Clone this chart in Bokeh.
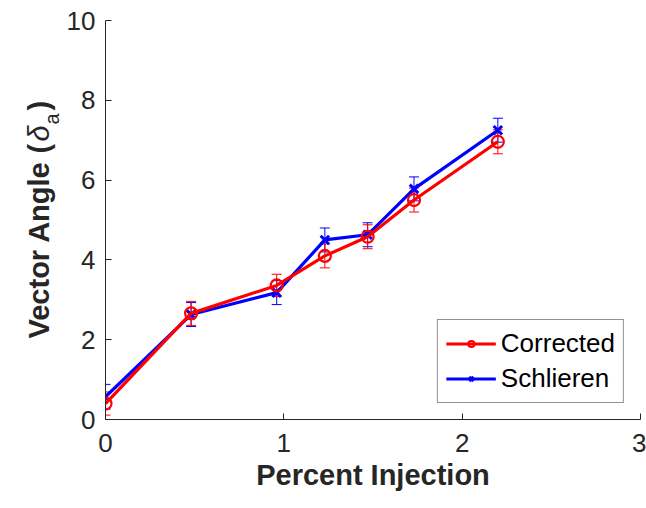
import math
from bokeh.plotting import figure
from bokeh.layouts import row
from bokeh.models import (ColumnDataSource, Whisker, TeeHead, Legend,
                          LegendItem, FixedTicker, Range1d)
from bokeh.core.properties import value
from bokeh.embed import file_html
from bokeh.resources import INLINE

# ---- data ----
percent_injection = [0.0, 0.48, 0.96, 1.23, 1.47, 1.73, 2.20]
corrected = [0.40, 2.66, 3.36, 4.10, 4.58, 5.50, 6.96]
corrected_err = [0.29, 0.30, 0.28, 0.30, 0.30, 0.30, 0.30]
schlieren = [0.57, 2.63, 3.18, 4.50, 4.63, 5.78, 7.25]
schlieren_err = [0.31, 0.30, 0.30, 0.30, 0.30, 0.30, 0.30]
x_ticks = [0, 1, 2, 3]
y_ticks = [0, 2, 4, 6, 8, 10]
y_label_parts = ["Vector Angle", "(", "\u03b4", "a", ")"]

FONT = "Liberation Sans"
AX = "#262626"
RED = "#ff0000"
BLUE = "#0000ff"

W, H = 646, 508
LW = 63                      # width of the strip holding the y-axis title
BL, BR, BT, BB = 104 - LW, 6, 20, 89

# ---- strip with the composite y-axis title ----
# its frame is aligned with the main plot's frame, so use page pixels
lab = figure(width=LW, height=H, output_backend="svg", toolbar_location=None,
             x_range=Range1d(0, LW), y_range=Range1d(BB, H - BT),
             x_axis_type=None, y_axis_type=None,
             min_border_left=0, min_border_right=0, min_border_top=BT,
             min_border_bottom=BB)
lab.xgrid.visible = False
lab.ygrid.visible = False
lab.outline_line_color = None
lab.border_fill_color = "white"
lab.background_fill_color = "white"

# (baseline x, start y from top of page, size, style)
label_layout = [
    (38, 338, "29px", "bold"),
    (38, 153, "29px", "bold"),
    (38, 141, "29px", "italic"),
    (51, 124, "20px", "normal"),
    (38, 110, "29px", "bold"),
]
for txt, (bx, sy, fs, st) in zip(y_label_parts, label_layout):
    lab.text(x=[bx], y=[H - sy], text=[txt], angle=math.pi / 2,
             text_align="left", text_baseline="alphabetic",
             text_font=value(FONT), text_font_size=value(fs),
             text_font_style=st, text_color=AX)

# ---- main plot ----
p = figure(width=W - LW, height=H, output_backend="svg", toolbar_location=None,
           x_range=Range1d(0, 3), y_range=Range1d(0, 10),
           min_border_left=BL, min_border_right=BR, min_border_top=BT,
           min_border_bottom=BB)
p.xgrid.visible = False
p.ygrid.visible = False
p.outline_line_color = None
p.background_fill_color = "white"
p.border_fill_color = "white"

for ax in (p.xaxis, p.yaxis):
    ax.axis_line_color = AX
    ax.axis_line_width = 1
    ax.major_tick_line_color = AX
    ax.major_tick_in = 6
    ax.major_tick_out = 0
    ax.minor_tick_in = 0
    ax.minor_tick_out = 0
    ax.major_label_text_font = FONT
    ax.major_label_text_font_size = "26px"
    ax.major_label_text_color = AX

p.xaxis.ticker = FixedTicker(ticks=x_ticks)
p.yaxis.ticker = FixedTicker(ticks=y_ticks)
p.xaxis.major_label_standoff = 14
p.yaxis.major_label_standoff = 10
p.xaxis.axis_label = "Percent Injection"
p.xaxis.axis_label_text_font = FONT
p.xaxis.axis_label_text_font_size = "29px"
p.xaxis.axis_label_text_font_style = "bold"
p.xaxis.axis_label_text_color = AX
p.xaxis.axis_label_standoff = 4

def make_src(y, e):
    return ColumnDataSource(dict(x=percent_injection, y=y,
                                 upper=[a + b for a, b in zip(y, e)],
                                 lower=[a - b for a, b in zip(y, e)]))

src_s = make_src(schlieren, schlieren_err)
src_c = make_src(corrected, corrected_err)

def whisk(src, col):
    w = Whisker(source=src, base="x", upper="upper", lower="lower",
                line_color=col, line_width=1,
                upper_head=TeeHead(size=10, line_color=col, line_width=1),
                lower_head=TeeHead(size=10, line_color=col, line_width=1))
    p.add_layout(w)

whisk(src_s, BLUE)
whisk(src_c, RED)

ls = p.line("x", "y", source=src_s, line_color=BLUE, line_width=3.2)
ms = p.scatter("x", "y", source=src_s, marker="x", size=12,
               line_color=BLUE, line_width=3)
lc = p.line("x", "y", source=src_c, line_color=RED, line_width=3.2)
mc = p.scatter("x", "y", source=src_c, marker="circle", size=12,
               fill_color=None, line_color=RED, line_width=2.2)

legend = Legend(items=[LegendItem(label="Corrected", renderers=[lc, mc]),
                       LegendItem(label="Schlieren", renderers=[ls, ms])],
                location="bottom_right", margin=16, padding=8, spacing=4,
                glyph_width=50, glyph_height=15, label_height=28,
                label_standoff=5,
                label_text_font=FONT, label_text_font_size="26px",
                label_text_color="black",
                border_line_color=AX, border_line_width=1,
                background_fill_color="white", background_fill_alpha=1)
p.add_layout(legend)

layout = row(lab, p, spacing=0)
open("out.html", "w").write(file_html(layout, INLINE))
